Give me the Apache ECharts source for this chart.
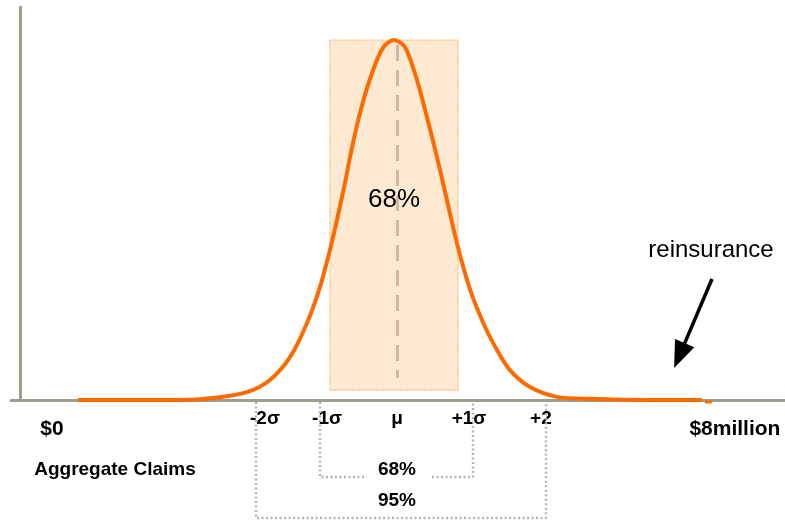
<!DOCTYPE html>
<html>
<head>
<meta charset="utf-8">
<script src="https://cdn.jsdelivr.net/npm/echarts@6/dist/echarts.min.js"></script>
<style>html,body{margin:0;padding:0;background:#fff}#c{width:785px;height:521px}</style>
</head>
<body>
<div id="c"></div>
<script>
// Aggregate claims ($ million) and relative density
var curveX = [0.601,1.669,2.014,2.370,2.610,2.820,2.998,3.134,3.238,3.311,3.395,3.448,3.552,3.678,3.793,3.908,4.023,4.149,4.253,4.358,4.431,4.567,4.703,4.839,4.975,5.122,5.331,5.614,5.959,6.587,7.131];
var curveY = [0,0,0.5,2.0,5.1,10.9,19.6,28.8,38.2,45.8,55.2,61.8,73.0,83.2,89.6,91.6,89.8,81.4,72.0,61.8,54.2,39.9,28.2,19.8,13.2,7.6,3.3,0.8,0.3,0,0];
var tailX = [7.162,7.235];
var tailY = [-0.5,-0.5];
// sigma tick labels
var sigmaLabels = ['-2σ','-1σ','μ','+1σ','+2'];
var sigmaValues = [2.558,3.207,3.939,4.693,5.446];
// dollar tick labels
var dollarLabels = ['$0','$8million'];
var dollarValues = [0.329,7.476];
// 68% band (±1σ) and mean line
var bandX = [3.238,4.578];
var bandY = [91.6,2.5];
var meanX = 3.939;
var meanY = [90.3,5.6];
// bracket lines below the axis
var innerLeftX = [3.134,3.134,3.625];
var innerLeftY = [-0.5,-19.6,-19.6];
var innerRightX = [4.306,4.735,4.735];
var innerRightY = [-19.6,-19.6,-0.5];
var outerX = [2.464,2.464,5.499,5.499];
var outerY = [-0.5,-30.0,-30.0,-0.5];
// reinsurance arrow (start, end)
var arrowX = [7.236,6.895];
var arrowY = [30.8,11.3];
// texts
var bandText = '68%';
var innerText = '68%';
var outerText = '95%';
var axisTitle = 'Aggregate Claims';
var noteText = 'reinsurance';

function pairs(xs, ys){ return xs.map(function(x,i){ return [x, ys[i]]; }); }

var FONT = 'Liberation Sans, Arial, sans-serif';
var chart = echarts.init(document.getElementById('c'), null, {renderer:'canvas'});
var dotStyle = {color: '#B5B5B5', width: 2.5, type: [2, 2.5]};

var option = {
  animation: false,
  grid: {left: 11, right: 0, top: 7, bottom: 121},
  xAxis: [{
    type: 'value', min: -0.1, max: 8,
    axisLine: {show: true, onZero: true, lineStyle: {color: '#9E9E8E', width: 3}},
    axisTick: {show: false},
    splitLine: {show: false},
    axisLabel: {
      show: true, margin: 9,
      customValues: sigmaValues,
      formatter: function(v){ var i = sigmaValues.indexOf(v); return i >= 0 ? sigmaLabels[i] : ''; },
      color: '#000', fontFamily: FONT, fontWeight: 'bold', fontSize: 19
    }
  }, {
    type: 'value', min: -0.1, max: 8, position: 'bottom',
    axisLine: {show: false}, axisTick: {show: false}, splitLine: {show: false},
    axisLabel: {
      show: true, margin: 19,
      customValues: dollarValues,
      formatter: function(v){ var i = dollarValues.indexOf(v); return i >= 0 ? dollarLabels[i] : ''; },
      color: '#000', fontFamily: FONT, fontWeight: 'bold', fontSize: 21
    }
  }],
  yAxis: {
    type: 'value', min: 0, max: 100,
    axisLine: {show: true, onZero: true, lineStyle: {color: '#9E9E8E', width: 3}},
    axisTick: {show: false}, axisLabel: {show: false}, splitLine: {show: false}
  },
  series: [
    {
      type: 'line', data: [], z: 1, silent: true,
      markArea: {
        silent: true,
        itemStyle: {color: '#FEE9D2', borderColor: '#F7A945', borderWidth: 1.2, borderType: 'dotted'},
        data: [[{coord: [bandX[0], bandY[0]]}, {coord: [bandX[1], bandY[1]]}]]
      },
      markLine: {
        silent: true, symbol: 'none', label: {show: false},
        lineStyle: {color: '#C9BBA5', width: 3, type: [16, 9]},
        data: [[{coord: [meanX, meanY[0]]}, {coord: [meanX, meanY[1]]}]]
      }
    },
    {
      type: 'line', data: pairs(curveX, curveY), smooth: 0.3, showSymbol: false, z: 5,
      lineStyle: {color: '#FF6A00', width: 4}
    },
    {
      type: 'line', data: pairs(tailX, tailY), showSymbol: false, clip: false, z: 5,
      lineStyle: {color: '#FF6A00', width: 3}
    },
    {
      type: 'line', data: pairs(innerLeftX, innerLeftY), showSymbol: false, clip: false, z: 4,
      lineStyle: dotStyle
    },
    {
      type: 'line', data: pairs(innerRightX, innerRightY), showSymbol: false, clip: false, z: 4,
      lineStyle: dotStyle
    },
    {
      type: 'line', data: pairs(outerX, outerY), showSymbol: false, clip: false, z: 4,
      lineStyle: dotStyle
    },
    {
      type: 'line', data: [], z: 6,
      markLine: {
        silent: true, label: {show: false},
        symbol: ['none', 'triangle'], symbolSize: [21, 27],
        lineStyle: {color: '#000', width: 3.5, type: 'solid'},
        itemStyle: {color: '#000'},
        data: [[{coord: [arrowX[0], arrowY[0]]}, {coord: [arrowX[1], arrowY[1]]}]]
      }
    }
  ],
  graphic: [
    {type: 'text', x: 394, y: 200, z: 10, style: {text: bandText, font: '26px ' + FONT, fill: '#000', textAlign: 'center', textVerticalAlign: 'middle'}},
    {type: 'text', x: 397, y: 470, z: 10, style: {text: innerText, font: 'bold 19px ' + FONT, fill: '#000', textAlign: 'center', textVerticalAlign: 'middle'}},
    {type: 'text', x: 397, y: 501, z: 10, style: {text: outerText, font: 'bold 19px ' + FONT, fill: '#000', textAlign: 'center', textVerticalAlign: 'middle'}},
    {type: 'text', x: 115, y: 470, z: 10, style: {text: axisTitle, font: 'bold 19px ' + FONT, fill: '#000', textAlign: 'center', textVerticalAlign: 'middle'}},
    {type: 'text', x: 711, y: 250, z: 10, style: {text: noteText, font: '24px ' + FONT, fill: '#000', textAlign: 'center', textVerticalAlign: 'middle'}}
  ]
};
chart.setOption(option);
</script>
</body>
</html>
